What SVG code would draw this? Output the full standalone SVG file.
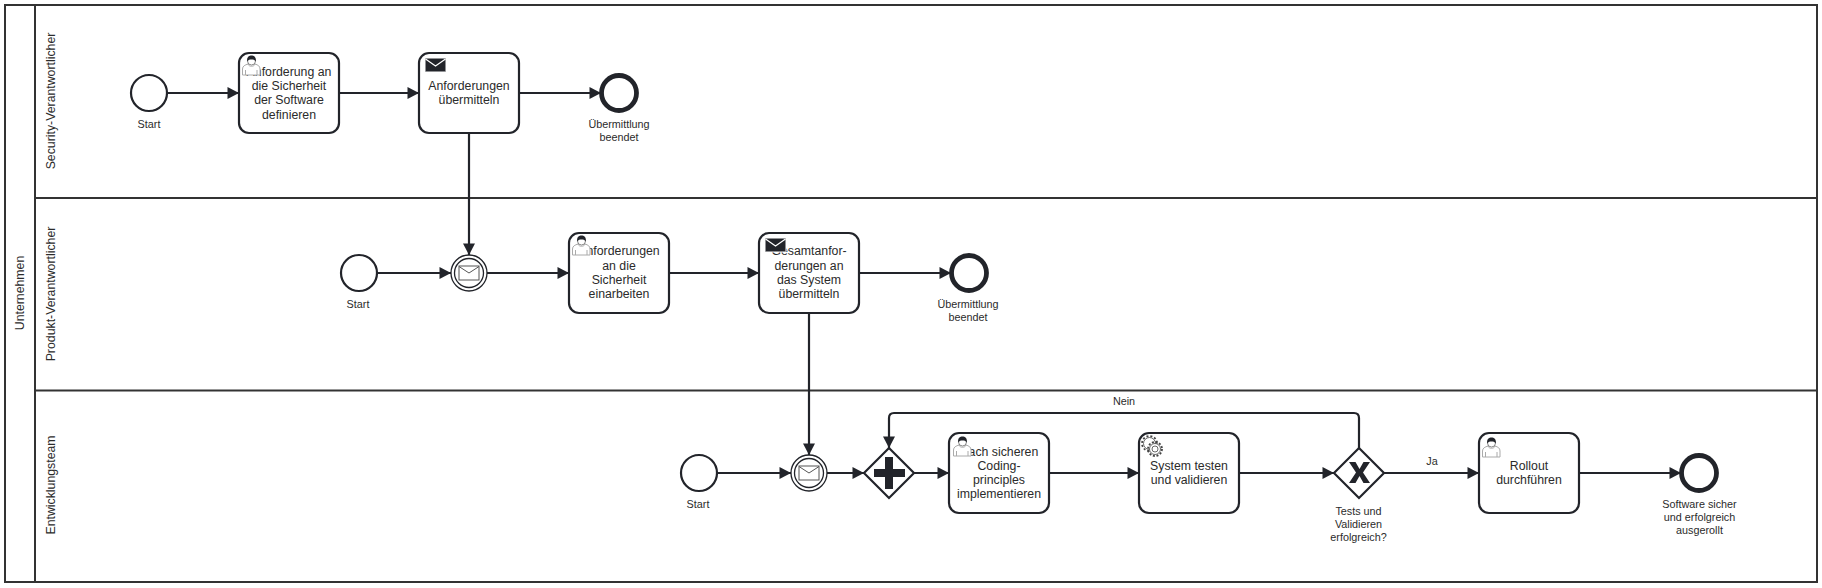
<svg xmlns="http://www.w3.org/2000/svg" width="1822" height="588" viewBox="0 0 1822 588">
<style>
text{font-family:"Liberation Sans",Arial,sans-serif;fill:#2b2b2b;text-anchor:middle}
.t{font-size:12.300px}
.l{font-size:10.800px}
.box{fill:#fff;stroke:#22242a;stroke-width:2.200}
.ev{fill:#fff;stroke:#22242a;stroke-width:2.200}
.end{fill:#fff;stroke:#22242a;stroke-width:4.800}
.thin{fill:#fff;stroke:#22242a;stroke-width:1.300}
.flow{fill:none;stroke:#22242a;stroke-width:2.200;marker-end:url(#a)}
.pool{fill:#fff;stroke:#333;stroke-width:2}
.black{fill:#22242a;stroke:#fff;stroke-width:1}
.pb{fill:#fff;stroke:#aaa;stroke-width:1}
.ph{fill:#22242a;stroke:none}
.mail{fill:#fff;stroke:#555;stroke-width:1}
</style>
<defs>
<marker id="a" markerUnits="userSpaceOnUse" markerWidth="13" markerHeight="14" refX="12" refY="7" orient="auto"><path d="M0.500 1L12 7L0.500 13Z" fill="#22242a"/></marker>
<g id="user"><path class="pb" d="M0.500 19V13C0.500 10 3 9 6 8H13C16 9 18 10 18 13V19Z"/><path class="pb" d="M3.500 19V14M15 19V14M6 8C6.500 11 12.500 11 13 8" fill="none"/><circle cx="9.500" cy="5" r="4" fill="#fff" stroke="#666" stroke-width="0.800"/><path class="ph" d="M5.200 5.500C4.600 1 7 -0.500 9.500 -0.500S14.400 1 13.800 5.500C12.800 3.400 11 3.400 9.500 3.400S6.200 3.400 5.200 5.500Z"/></g>
<g id="env"><rect class="black" x="0" y="0" width="21" height="14" rx="0.500"/><path d="M0.500 1L10.500 8L20.500 1" fill="none" stroke="#fff" stroke-width="1.200"/></g>
<g id="mailc"><rect class="mail" x="0" y="0" width="20" height="14"/><path d="M0 0.500L10 7L20 0.500" fill="none" stroke="#555"/></g>
</defs>
<g id="pool">
<rect class="pool" x="5" y="5" width="1812" height="577"/>
<path d="M35 5V582M35 198H1817M35 390.500H1817" fill="none" stroke="#333" stroke-width="2"/>
<text class="t" transform="translate(24 293) rotate(-90)">Unternehmen</text>
<text class="t" transform="translate(55 101) rotate(-90)">Security-Verantwortlicher</text>
<text class="t" transform="translate(55 294) rotate(-90)">Produkt-Verantwortlicher</text>
<text class="t" transform="translate(55 485) rotate(-90)">Entwicklungsteam</text>
</g>
<g id="connectors">
<path class="flow" d="M167 93H239"/>
<path class="flow" d="M339 93H419"/>
<path class="flow" d="M519 93H601"/>
<path class="flow" d="M469 133V255"/>
<path class="flow" d="M377 273H451"/>
<path class="flow" d="M487 273H569"/>
<path class="flow" d="M669 273H759"/>
<path class="flow" d="M859 273H951"/>
<path class="flow" d="M809 313V455"/>
<path class="flow" d="M717 473H791"/>
<path class="flow" d="M827 473H864"/>
<path class="flow" d="M914 473H949"/>
<path class="flow" d="M1049 473H1139"/>
<path class="flow" d="M1239 473H1334"/>
<path class="flow" d="M1384 473H1479"/>
<path class="flow" d="M1579 473H1681"/>
<path class="flow" d="M1359 448V418Q1359 413 1354 413H894Q889 413 889 418V448"/>
<text class="l" x="1124" y="405">Nein</text>
<text class="l" x="1432" y="465">Ja</text>
</g>
<g id="start1"><circle class="ev" cx="149" cy="93" r="18"/><text class="l" x="149" y="128">Start</text></g>
<g id="task1"><rect class="box" x="239" y="53" width="100" height="80" rx="10"/>
<text class="t"><tspan x="289" y="75.500">Anforderung an</tspan><tspan x="289" y="89.500">die Sicherheit</tspan><tspan x="289" y="104">der Software</tspan><tspan x="289" y="118.500">definieren</tspan></text>
<use href="#user" x="242" y="56"/></g>
<g id="task2"><rect class="box" x="419" y="53" width="100" height="80" rx="10"/>
<text class="t"><tspan x="469" y="89.500">Anforderungen</tspan><tspan x="469" y="104">übermitteln</tspan></text>
<use href="#env" x="425" y="58"/></g>
<g id="end1"><circle class="end" cx="619" cy="93" r="17.500"/><text class="l"><tspan x="619" y="128">Übermittlung</tspan><tspan x="619" y="141">beendet</tspan></text></g>
<g id="start2"><circle class="ev" cx="359" cy="273" r="18"/><text class="l" x="358" y="308">Start</text></g>
<g id="catch1"><circle class="thin" cx="469" cy="273" r="18"/><circle class="thin" cx="469" cy="273" r="14.500"/><use href="#mailc" x="459" y="266"/></g>
<g id="task3"><rect class="box" x="569" y="233" width="100" height="80" rx="10"/>
<text class="t"><tspan x="619" y="255">Anforderungen</tspan><tspan x="619" y="269.500">an die</tspan><tspan x="619" y="284">Sicherheit</tspan><tspan x="619" y="298">einarbeiten</tspan></text>
<use href="#user" x="572" y="236"/></g>
<g id="task4"><rect class="box" x="759" y="233" width="100" height="80" rx="10"/>
<text class="t"><tspan x="809" y="255">Gesamtanfor-</tspan><tspan x="809" y="269.500">derungen an</tspan><tspan x="809" y="284">das System</tspan><tspan x="809" y="298">übermitteln</tspan></text>
<use href="#env" x="765" y="238"/></g>
<g id="end2"><circle class="end" cx="969" cy="273" r="17.500"/><text class="l"><tspan x="968" y="308">Übermittlung</tspan><tspan x="968" y="321">beendet</tspan></text></g>
<g id="start3"><circle class="ev" cx="699" cy="473" r="18"/><text class="l" x="698" y="508">Start</text></g>
<g id="catch2"><circle class="thin" cx="809" cy="473" r="18"/><circle class="thin" cx="809" cy="473" r="14.500"/><use href="#mailc" x="799" y="466"/></g>
<g id="gw1"><path class="box" d="M889 448L914 473L889 498L864 473Z"/><path d="M885 457H893V469H905V477H893V489H885V477H874V469H885Z" fill="#22242a"/></g>
<g id="task5"><rect class="box" x="949" y="433" width="100" height="80" rx="10"/>
<text class="t"><tspan x="999" y="455.500">Nach sicheren</tspan><tspan x="999" y="469.500">Coding-</tspan><tspan x="999" y="484">principles</tspan><tspan x="999" y="498">implementieren</tspan></text>
<use href="#user" x="953" y="437"/></g>
<g id="task6"><rect class="box" x="1139" y="433" width="100" height="80" rx="10"/>
<text class="t"><tspan x="1189" y="469.500">System testen</tspan><tspan x="1189" y="484">und validieren</tspan></text>
<g fill="#fff" stroke="#444"><circle cx="1149.500" cy="443.500" r="7.500" fill="none" stroke-width="1.800" stroke-dasharray="2 2"/><circle cx="1149.500" cy="443.500" r="6" stroke-width="0.800"/><circle cx="1155" cy="449" r="7" fill="none" stroke-width="1.800" stroke-dasharray="2 1.700"/><circle cx="1155" cy="449" r="5.500" stroke-width="0.800"/><circle cx="1155" cy="449" r="3" stroke-width="0.800"/></g></g>
<g id="gw2"><path class="box" d="M1359 448L1384 473L1359 498L1334 473Z"/><path d="M1349 462H1355.500L1359.500 469L1363.500 462H1370L1363 472.500L1370 483H1363.500L1359.500 476L1355.500 483H1349L1356 472.500Z" fill="#22242a"/>
<text class="l"><tspan x="1358.500" y="515">Tests und</tspan><tspan x="1358.500" y="528">Validieren</tspan><tspan x="1358.500" y="541">erfolgreich?</tspan></text></g>
<g id="task7"><rect class="box" x="1479" y="433" width="100" height="80" rx="10"/>
<text class="t"><tspan x="1529" y="469.500">Rollout</tspan><tspan x="1529" y="484">durchführen</tspan></text>
<use href="#user" x="1482" y="438"/></g>
<g id="end3"><circle class="end" cx="1699" cy="473" r="17.500"/><text class="l"><tspan x="1699.500" y="508">Software sicher</tspan><tspan x="1699.500" y="521">und erfolgreich</tspan><tspan x="1699.500" y="534">ausgerollt</tspan></text></g>
</svg>
